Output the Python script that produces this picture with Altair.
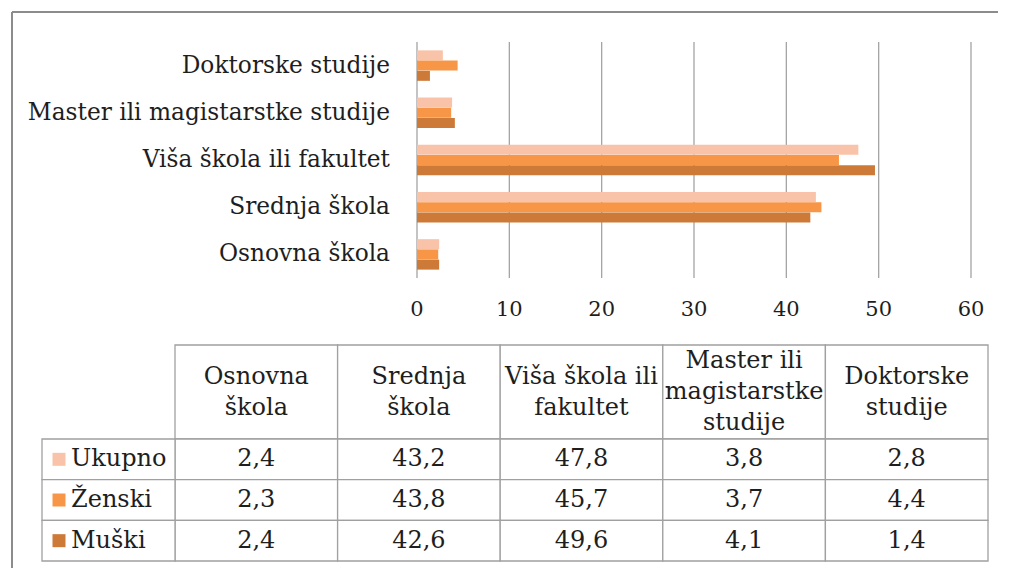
import altair as alt
import pandas as pd

# ---- data ----
categories = ["Osnovna škola", "Srednja škola", "Viša škola ili fakultet",
              "Master ili magistarstke studije", "Doktorske studije"]
header_labels = ["Osnovna\nškola", "Srednja\nškola", "Viša škola ili\nfakultet",
                 "Master ili\nmagistarstke\nstudije", "Doktorske\nstudije"]
series = ["Ukupno", "Ženski", "Muški"]
ukupno = [2.4, 43.2, 47.8, 3.8, 2.8]
zenski = [2.3, 43.8, 45.7, 3.7, 4.4]
muski = [2.4, 42.6, 49.6, 4.1, 1.4]
x_ticks = [0, 10, 20, 30, 40, 50, 60]
colors = ["#F9C3A9", "#F79646", "#CD7A38"]

rows = []
for s, vals in zip(series, [ukupno, zenski, muski]):
    for c, v in zip(categories, vals):
        rows.append({"category": c, "series": s, "value": v,
                     "label": f"{v:.1f}".replace(".", ",")})
df = pd.DataFrame(rows)
df_cat = pd.DataFrame({"category": categories, "header": header_labels,
                       "nlines": [h.count("\n") + 1 for h in header_labels]})
df_ser = pd.DataFrame({"series": series})
df_ticks = pd.DataFrame({"t": x_ticks})
one = pd.DataFrame({"a": [0]})

FONT = "DejaVu Serif"
TXT = "#1e1e1e"
GRID = "#a4a4a4"
TAB = "#a0a0a0"
LH = 31

# ---- scales (pixel layout) ----
X_bar = alt.Scale(domain=[0, 60], range=[409, 963], nice=False, zero=True)
Y_bar = alt.Scale(domain=categories[::-1], range=[34, 270],
                  paddingInner=0.35, paddingOuter=0.175)
X_tab = alt.Scale(domain=categories, range=[167, 980], paddingInner=0, paddingOuter=0)
Y_tab = alt.Scale(domain=series, range=[431, 553], paddingInner=0, paddingOuter=0)
C = alt.Scale(domain=series, range=colors)

# frame
frame_left = alt.Chart(one).mark_rule(color="#8c8c8c", strokeWidth=2).encode(
    x=alt.value(4), y=alt.value(4), y2=alt.value(700))
frame_top = alt.Chart(one).mark_rule(color="#8c8c8c", strokeWidth=2).encode(
    x=alt.value(4), x2=alt.value(1200), y=alt.value(4))

# gridlines
grid = alt.Chart(df_ticks).mark_rule(color=GRID, strokeWidth=1.3).encode(
    x=alt.X("t:Q", scale=X_bar, axis=None),
    y=alt.value(34), y2=alt.value(270))

bars = alt.Chart(df).mark_bar(size=10).encode(
    x=alt.X("value:Q", scale=X_bar, axis=None),
    y=alt.Y("category:N", scale=Y_bar, axis=None),
    yOffset=alt.YOffset("series:N", sort=series,
                        scale=alt.Scale(domain=series, paddingInner=0, paddingOuter=0)),
    color=alt.Color("series:N", scale=C, legend=None))

cat_labels = alt.Chart(df_cat).mark_text(
    align="right", baseline="middle", font=FONT, fontSize=23.3, color=TXT).encode(
    x=alt.value(382),
    y=alt.Y("category:N", scale=Y_bar, axis=None),
    text="category:N")

tick_labels = alt.Chart(df_ticks).mark_text(
    align="center", baseline="middle", font=FONT, fontSize=21, color=TXT).encode(
    x=alt.X("t:Q", scale=X_bar, axis=None),
    y=alt.value(302),
    text="t:Q")

# table
header_cells = alt.Chart(df_cat).mark_rect(fill="white", stroke=TAB, strokeWidth=1.3).encode(
    x=alt.X("category:N", scale=X_tab, axis=None),
    y=alt.value(337), y2=alt.value(431))

HEAD_MID = 384
header_texts = []
for n in [2, 3]:
    header_texts.append(
        alt.Chart(df_cat).transform_filter(alt.datum.nlines == n).mark_text(
            align="center", baseline="middle", font=FONT, fontSize=24, color=TXT,
            lineBreak="\n", lineHeight=LH).encode(
            x=alt.X("category:N", scale=X_tab, axis=None),
            y=alt.value(HEAD_MID - (n - 1) * LH / 2),
            text="header:N"))

body_cells = alt.Chart(df).mark_rect(fill="white", stroke=TAB, strokeWidth=1.3).encode(
    x=alt.X("category:N", scale=X_tab, axis=None),
    y=alt.Y("series:N", scale=Y_tab, axis=None))
body_text = alt.Chart(df).mark_text(
    align="center", baseline="middle", font=FONT, fontSize=24, color=TXT).encode(
    x=alt.X("category:N", scale=X_tab, axis=None),
    y=alt.Y("series:N", scale=Y_tab, axis=None),
    text="label:N")

legend_cells = alt.Chart(df_ser).mark_rect(fill="white", stroke=TAB, strokeWidth=1.3).encode(
    x=alt.value(34), x2=alt.value(167),
    y=alt.Y("series:N", scale=Y_tab, axis=None))
legend_sq = alt.Chart(df_ser).mark_square(size=169, opacity=1).encode(
    x=alt.value(51),
    y=alt.Y("series:N", scale=Y_tab, axis=None),
    color=alt.Color("series:N", scale=C, legend=None))
legend_text = alt.Chart(df_ser).mark_text(
    align="left", baseline="middle", font=FONT, fontSize=24, color=TXT).encode(
    x=alt.value(63),
    y=alt.Y("series:N", scale=Y_tab, axis=None),
    text="series:N")

chart = alt.layer(
    frame_left, frame_top, grid, bars, cat_labels, tick_labels,
    header_cells, *header_texts, body_cells, body_text,
    legend_cells, legend_sq, legend_text
).resolve_scale(
    x="independent", y="independent", color="independent"
).properties(
    width=990, height=560, padding=0,
    autosize=alt.AutoSizeParams(type="none"),
    background="white"
).configure_view(stroke=None)

chart.save("out.html", embed_options={"renderer": "svg", "actions": False})
